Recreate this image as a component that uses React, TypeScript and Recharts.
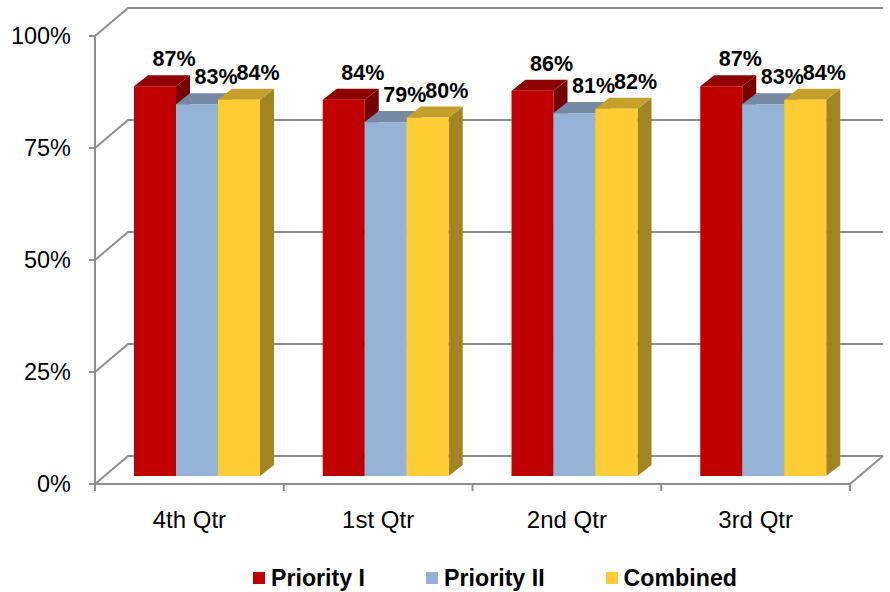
import React from 'react';
import { BarChart, Bar, XAxis, YAxis, CartesianGrid, Legend, LabelList } from 'recharts';

const quarters = ['4th Qtr', '1st Qtr', '2nd Qtr', '3rd Qtr'];
const priorityI = [0.87, 0.84, 0.86, 0.87];
const priorityII = [0.83, 0.79, 0.81, 0.83];
const combined = [0.84, 0.8, 0.82, 0.84];
const yTicks = [0, 0.25, 0.5, 0.75, 1];

const SERIES = [
    { key: 'p1', name: 'Priority I', front: '#C00000', top: '#8F0000', side: '#760000' },
    { key: 'p2', name: 'Priority II', front: '#95B3D7', top: '#7589A5', side: '#6A7F9C' },
    { key: 'comb', name: 'Combined', front: '#FFCC33', top: '#C4A02A', side: '#A28421' },
];

const data = quarters.map((q, i) => ({
    quarter: q,
    p1: priorityI[i],
    p2: priorityII[i],
    comb: combined[i],
}));

const FONT = '"Liberation Sans", Arial, sans-serif';
const GRID = '#8E8E8E';

// oblique 3D offsets
const WALL_DX = 33;
const WALL_DY = -28;
const BAR_DX = 8;
const BAR_DY = -8;
const DEPTH_DX = 14;
const DEPTH_DY = -11;

const Bar3D = (props: any) => {
    const { x, y, width, height, colors } = props;
    if (!width || height == null) return null;
    const fx = x + BAR_DX;
    const fy = y + BAR_DY;
    const w = width;
    const h = height;
    const top = `${fx},${fy} ${fx + w},${fy} ${fx + w + DEPTH_DX},${fy + DEPTH_DY} ${fx + DEPTH_DX},${fy + DEPTH_DY}`;
    const side = `${fx + w},${fy} ${fx + w + DEPTH_DX},${fy + DEPTH_DY} ${fx + w + DEPTH_DX},${fy + h + DEPTH_DY} ${fx + w},${fy + h}`;
    return (
        <g>
            <polygon points={side} fill={colors.side} />
            <polygon points={top} fill={colors.top} />
            <rect x={fx} y={fy} width={w} height={h} fill={colors.front} />
        </g>
    );
};

const BarLabel = (props: any) => {
    const vb = props.viewBox && props.viewBox.width != null ? props.viewBox : props;
    const { x, y, width } = vb;
    if (props.value == null) return null;
    return (
        <text
            x={x + width / 2 + 27}
            y={y - 28}
            textAnchor="middle"
            fontFamily={FONT}
            fontWeight="bold"
            fontSize={21.5}
            fill="#000"
        >
            {Math.round(props.value * 100)}%
        </text>
    );
};

const GridLine = (props: any) => {
    const { x1, y1, x2, index } = props;
    const floor = props.y != null && props.height != null
        ? Math.abs(y1 - (props.y + props.height)) < 1
        : index === 0;
    let d = `M${x1},${y1} L${x1 + WALL_DX},${y1 + WALL_DY} L${x2 + WALL_DX},${y1 + WALL_DY}`;
    if (floor) d += ` M${x2},${y1} L${x2 + WALL_DX},${y1 + WALL_DY}`;
    return <path key={`g-${index}`} d={d} stroke={GRID} strokeWidth={2} fill="none" />;
};

const QuarterTick = (props: any) => {
    const { x, y, payload, index, visibleTicksCount, width } = props;
    const count = visibleTicksCount || quarters.length;
    const band = (width || 755) / count;
    const left = x - band / 2;
    return (
        <g>
            <line x1={left} y1={y} x2={left} y2={y + 7} stroke={GRID} strokeWidth={2} />
            {index === count - 1 && (
                <line x1={x + band / 2} y1={y} x2={x + band / 2} y2={y + 7} stroke={GRID} strokeWidth={2} />
            )}
            <text x={x} y={y + 44} textAnchor="middle" fontFamily={FONT} fontSize={24} fill="#000">
                {payload.value}
            </text>
        </g>
    );
};

const LegendContent = () => (
    <div
        style={{
            display: 'flex',
            alignItems: 'center',
            height: 40,
            paddingTop: 12,
            paddingLeft: 253,
            boxSizing: 'border-box',
            fontFamily: FONT,
            fontWeight: 'bold',
            fontSize: 23.2,
            color: '#000',
        }}
    >
        {SERIES.map(s => (
            <div key={s.key} style={{ display: 'flex', alignItems: 'center', marginRight: 61 }}>
                <span style={{ width: 12, height: 12, background: s.front, marginRight: 6, display: 'inline-block' }} />
                <span>{s.name}</span>
            </div>
        ))}
    </div>
);

export default function App() {
    return (
        <div style={{ position: 'absolute', left: 0, top: 0, width: 890, height: 592, background: '#fff' }}>
            <BarChart
                width={890}
                height={592}
                data={data}
                margin={{ top: 36, right: 40, bottom: 0, left: 0 }}
                barCategoryGap={31}
                barGap={0}
            >
                <CartesianGrid vertical={false} horizontal={GridLine} />
                <XAxis
                    dataKey="quarter"
                    height={68}
                    axisLine={{ stroke: GRID, strokeWidth: 2 }}
                    tickLine={false}
                    tickSize={0}
                    tickMargin={0}
                    interval={0}
                    tick={QuarterTick}
                />
                <YAxis
                    width={95}
                    domain={[0, 1]}
                    ticks={yTicks}
                    interval={0}
                    axisLine={{ stroke: GRID, strokeWidth: 2 }}
                    tickLine={{ stroke: GRID, strokeWidth: 2 }}
                    tickSize={6}
                    tickMargin={18}
                    tickFormatter={(v: number) => `${Math.round(v * 100)}%`}
                    tick={{ fill: '#000', fontSize: 23.5, fontFamily: FONT }}
                />
                <Legend
                    verticalAlign="bottom"
                    height={40}
                    content={LegendContent}
                    wrapperStyle={{ left: 0, width: 890 }}
                />
                {SERIES.map(s => (
                    <Bar
                        key={s.key}
                        dataKey={s.key}
                        name={s.name}
                        fill={s.front}
                        isAnimationActive={false}
                        shape={(p: any) => <Bar3D {...p} colors={s} />}
                    >
                        <LabelList dataKey={s.key} content={BarLabel} />
                    </Bar>
                ))}
            </BarChart>
        </div>
    );
}
